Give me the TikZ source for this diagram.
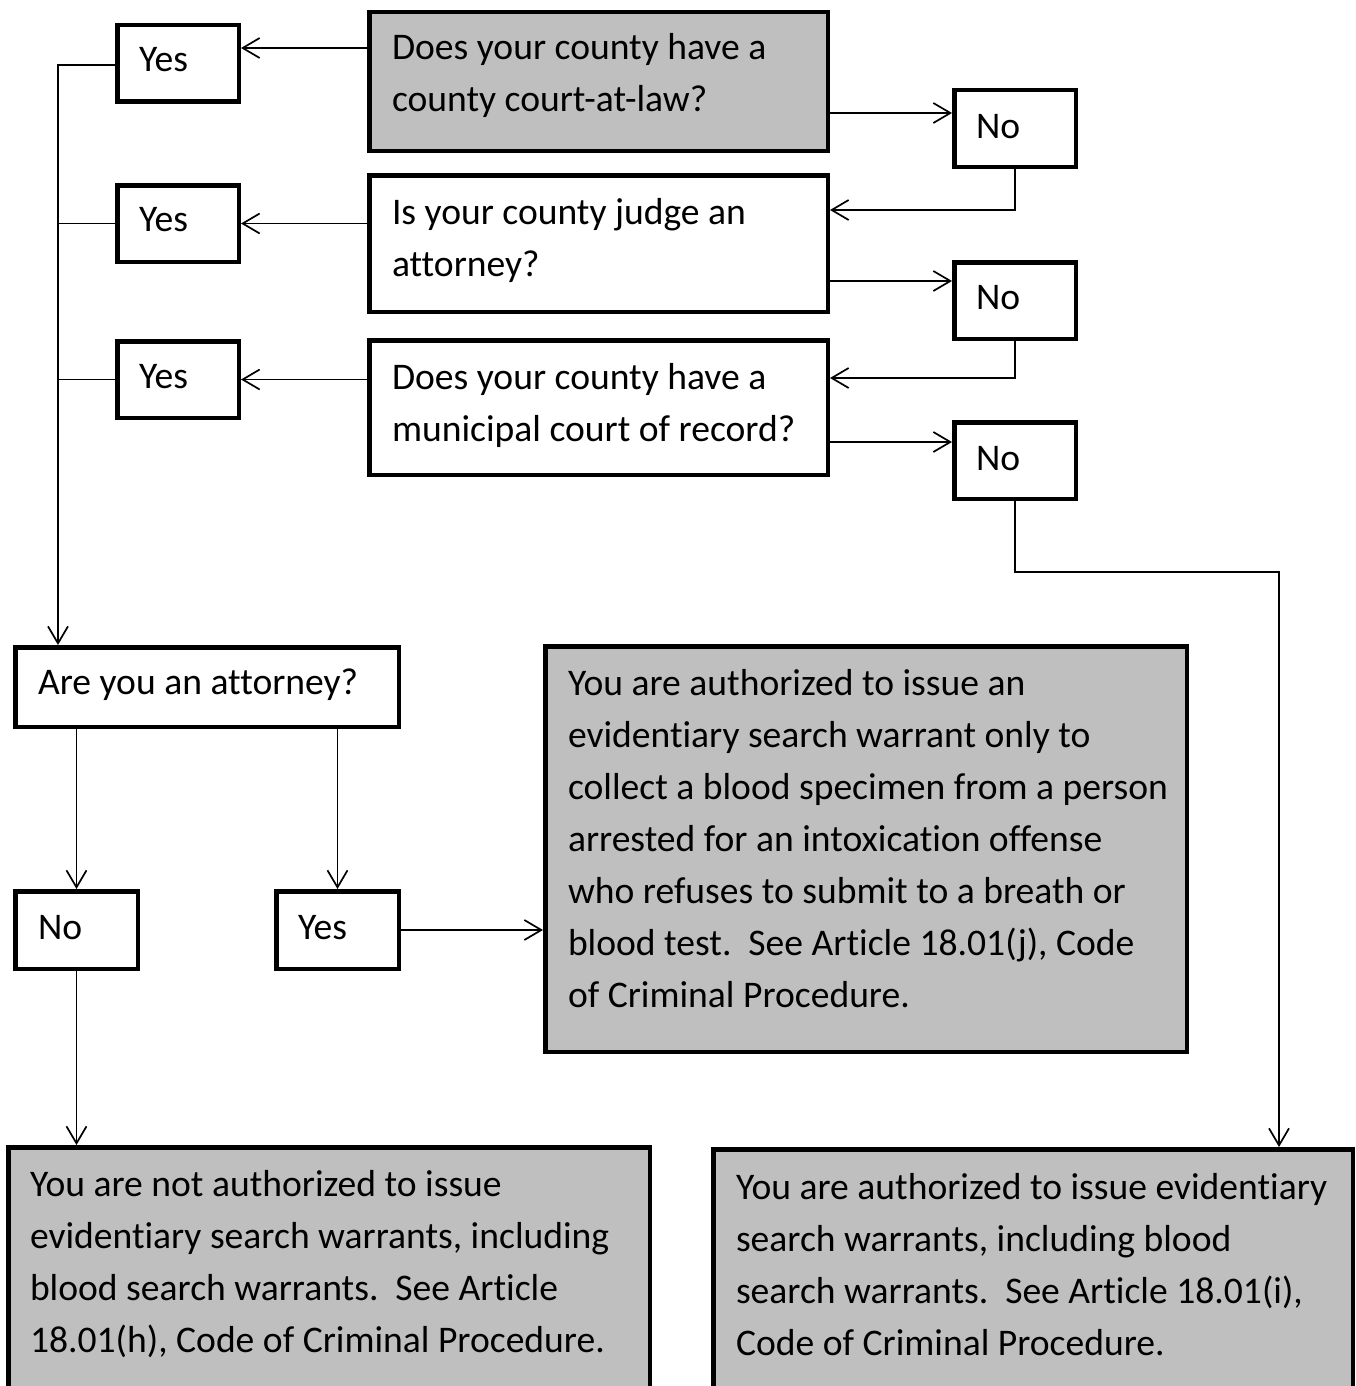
\documentclass[tikz,border=0pt]{standalone}
\usepackage{fontspec}
\setmainfont[Ligatures=NoCommon]{Carlito}
\usetikzlibrary{arrows.meta}
\definecolor{boxgray}{RGB}{191,191,191}
\newcommand\natsp{\spaceskip=0pt\xspaceskip=0pt\relax}
\begin{document}
\begin{tikzpicture}[x=1pt,y=-1pt,
  box/.style={draw, line width=4.5pt, rectangle, inner sep=0pt, outer sep=2.25pt, anchor=north west},
  gbox/.style={box, fill=boxgray},
  small/.style={box, minimum width=121.5pt, minimum height=76.5pt},
  txt/.style={font=\fontsize{37.6}{52}\selectfont, inner sep=0pt, outer sep=0pt, anchor=base west, text width=660pt, align=left},
  conn/.style={line width=1.7pt},
  arr/.style={conn, -{Straight Barb[length=17pt,width=20pt]}}
]
\useasboundingbox (0,0) rectangle (1355,1386);
\clip (0,0) rectangle (1355,1386);

% question boxes
\node[gbox, minimum width=458.5pt, minimum height=138.5pt] (A) at (367,10) {};
\node[box, minimum width=458.5pt, minimum height=136.5pt] (B) at (367,173) {};
\node[box, minimum width=458.5pt, minimum height=134.5pt] (C) at (367,338) {};
\node[txt] (tA) at (392,60) {\natsp Does your county have a\\county court-at-law?};
\node[txt] (tB) at (392,224) {\natsp Is your county judge an\\attorney?};
\node[txt] (tC) at (392,389) {\natsp Does your county have a\\municipal court of record?};

% yes boxes
\node[small] (Y1) at (115,23) {};
\node[small] (Y2) at (115,183) {};
\node[small] (Y3) at (115,339) {};
\node[txt] (tY1) at (139,72) {Yes};
\node[txt] (tY2) at (139,231) {Yes};
\node[txt] (tY3) at (139,388) {Yes};

% no boxes
\node[small] (N1) at (952,88) {};
\node[small] (N2) at (952,260) {};
\node[small] (N3) at (952,420) {};
\node[txt] (tN1) at (976,139) {No};
\node[txt] (tN2) at (976,309) {No};
\node[txt] (tN3) at (976,470) {No};

% attorney question
\node[box, minimum width=383.5pt, minimum height=79.5pt] (Att) at (13,645) {};
\node[txt] (tAtt) at (38,694) {\natsp Are you an attorney?};
\node[box, minimum width=122.5pt, minimum height=77.5pt] (N4) at (13,889) {};
\node[box, minimum width=122.5pt, minimum height=77.5pt] (Y4) at (274,889) {};
\node[txt] (tN4) at (38,939) {No};
\node[txt] (tY4) at (298,939) {Yes};

% outcome boxes
\node[gbox, minimum width=641.5pt, minimum height=405.5pt] (M) at (543,644) {};
\node[txt] (tM) at (568,695) {\natsp You are authorized to issue an\\evidentiary search warrant only to\\collect a blood specimen from a person\\arrested for an intoxication offense\\who refuses to submit to a breath or\\blood test.\ \ See Article 18.01(j), Code\\of Criminal Procedure.};
\node[gbox, minimum width=641.5pt, minimum height=300pt] (BL) at (6,1145) {};
\node[txt] (tBL) at (30,1196) {\natsp You are not authorized to issue\\evidentiary search warrants, including\\blood search warrants.\ \ See Article\\18.01(h), Code of Criminal Procedure.};
\node[gbox, minimum width=639.5pt, minimum height=300pt] (BR) at (711,1147) {};
\node[txt] (tBR) at (736,1199) {\natsp You are authorized to issue evidentiary\\search warrants, including blood\\search warrants.\ \ See Article 18.01(i),\\Code of Criminal Procedure.};

% connectors: questions to yes
\draw[arr] ([yshift=-38pt]A.north west) -- ([yshift=-38pt]A.north west -| Y1.east);
\draw[arr] (Y2.east -| B.west) -- (Y2.east);
\draw[arr] (Y3.east -| C.west) -- (Y3.east);

% yes trunk
\coordinate (trunk) at ([xshift=45pt]Att.north west);
\draw[arr] ([yshift=-42pt]Y1.north west) -| (trunk);
\draw[conn] (Y2.west) -- (Y2.west -| trunk);
\draw[conn] (Y3.west) -- (Y3.west -| trunk);

% questions to no, no to next question
\draw[arr] ([yshift=-103pt]A.north east) -- ([yshift=-103pt]A.north east -| N1.west);
\draw[arr] (N1.south) |- ([yshift=-37pt]B.north east);
\draw[arr] ([yshift=-108pt]B.north east) -- ([yshift=-108pt]B.north east -| N2.west);
\draw[arr] (N2.south) |- ([yshift=-40pt]C.north east);
\draw[arr] ([yshift=-104pt]C.north east) -- ([yshift=-104pt]C.north east -| N3.west);
\draw[arr] (N3.south) -- ++(0,71) -| ([xshift=568pt]BR.north west);

% attorney branches
\draw[arr] (N4.north |- Att.south) -- (N4.north);
\draw[arr] (Y4.north |- Att.south) -- (Y4.north);
\draw[arr] (Y4.east) -- (Y4.east -| M.west);
\draw[arr] (N4.south) -- (N4.south |- BL.north);
\end{tikzpicture}
\end{document}
